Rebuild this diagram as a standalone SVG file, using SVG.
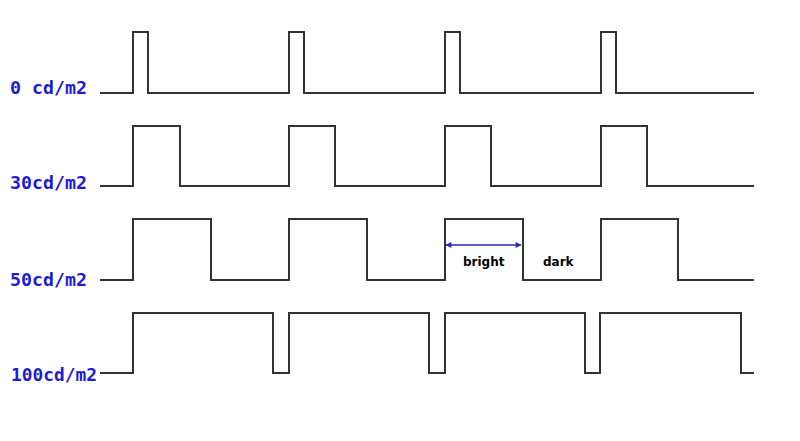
<svg xmlns="http://www.w3.org/2000/svg" width="800" height="441" viewBox="0 0 800 441">
<style>
.w{fill:none;stroke:#333;stroke-width:2;stroke-linejoin:miter}
.lbl{font-family:"DejaVu Sans Mono","Liberation Mono",monospace;font-weight:bold;font-size:17px;fill:#1c1cd0}
.t{font-family:"DejaVu Sans","Liberation Sans",sans-serif;font-weight:bold;font-size:12px;fill:#000}
.arr{stroke:#2a2ab8;stroke-width:1.5;fill:none}
</style>
<defs>
<marker id="ah" viewBox="0 0 10 10" refX="9" refY="5" markerWidth="7" markerHeight="6" markerUnits="userSpaceOnUse" orient="auto-start-reverse">
<path d="M0,0 L10,5 L0,10 z" fill="#2a2ab8"/>
</marker>
</defs>
<rect width="800" height="441" fill="#fff"/>
<g id="labels">
<text class="lbl" x="10" y="94" textLength="77" lengthAdjust="spacingAndGlyphs" xml:space="preserve">0 cd/m2</text>
<text class="lbl" x="10" y="189" textLength="77" lengthAdjust="spacingAndGlyphs">30cd/m2</text>
<text class="lbl" x="10" y="286" textLength="77" lengthAdjust="spacingAndGlyphs">50cd/m2</text>
<text class="lbl" x="11" y="381" textLength="86" lengthAdjust="spacingAndGlyphs">100cd/m2</text>
</g>
<g id="wave-0">
<path class="w" d="M100,93 H133 V32 H148 V93 H289 V32 H304 V93 H445 V32 H460 V93 H601 V32 H616 V93 H754"/>
</g>
<g id="wave-30">
<path class="w" d="M100,186 H133 V126 H180 V186 H289 V126 H335 V186 H445 V126 H491 V186 H601 V126 H647 V186 H754"/>
</g>
<g id="wave-50">
<path class="w" d="M100,280 H133 V219 H211 V280 H289 V219 H367 V280 H445 V219 H523 V280 H601 V219 H678 V280 H754"/>
</g>
<g id="wave-100">
<path class="w" d="M100,373 H133 V313 H273 V373 H289 V313 H429 V373 H445 V313 H585 V373 H600 V313 H741 V373 H754"/>
</g>
<g id="connectors">
<line class="arr" x1="446" y1="245" x2="521" y2="245" marker-start="url(#ah)" marker-end="url(#ah)"/>
</g>
<g id="annotations">
<text class="t" x="463" y="266">bright</text>
<text class="t" x="543" y="266">dark</text>
</g>
</svg>
